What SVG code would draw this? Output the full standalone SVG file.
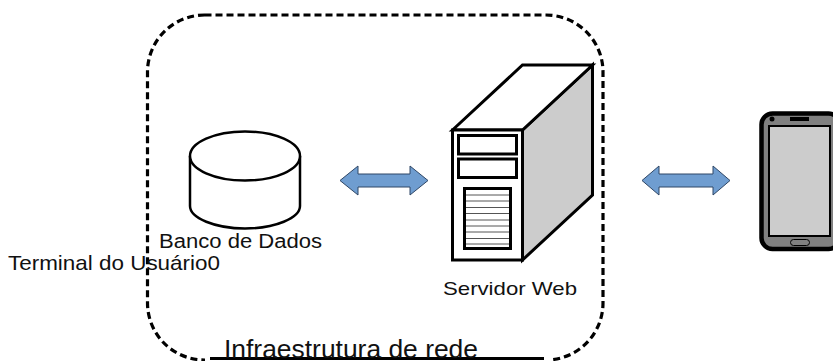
<svg xmlns="http://www.w3.org/2000/svg" width="833" height="361" viewBox="0 0 833 361">
<style>
.t{font-family:"Liberation Sans",Arial,sans-serif;fill:#111}
.arrow{fill:#6f9dd0;stroke:#2f4766;stroke-width:1}
</style>
<rect width="833" height="361" fill="#fff"/>
<g id="infra">
<rect x="147.500" y="15" width="455.500" height="345" rx="57" ry="57" fill="none" stroke="#000" stroke-width="3.200" stroke-dasharray="7 4"/>
<rect x="205" y="350" width="345" height="11" fill="#fff"/>
<line x1="210" y1="358.500" x2="544" y2="358.500" stroke="#000" stroke-width="3"/>
<text class="t" x="224" y="357.500" font-size="25.500" textLength="254" lengthAdjust="spacingAndGlyphs">Infraestrutura de rede</text>
</g>
<g id="db">
<path d="M190 156V206C190 218 215 228.500 245 228.500S300 218 300 206V156" fill="#fff" stroke="#000" stroke-width="2.500"/>
<ellipse cx="245" cy="156" rx="55" ry="24.500" fill="#fff" stroke="#000" stroke-width="2.500"/>
<text class="t" x="159" y="248" font-size="20" textLength="163" lengthAdjust="spacingAndGlyphs">Banco de Dados</text>
</g>
<g id="server">
<path d="M522.500 130L592.500 65V195L522.500 260Z" fill="#ccc" stroke="#000" stroke-width="3"/>
<path d="M452.500 130L522.500 65H592.500L522.500 130Z" fill="#fff" stroke="#000" stroke-width="3"/>
<rect x="452.500" y="130" width="70" height="130" fill="#fff" stroke="#000" stroke-width="3"/>
<rect x="458.500" y="135.500" width="58" height="18.500" fill="#fff" stroke="#000" stroke-width="3"/>
<rect x="458.500" y="159" width="58" height="18.500" fill="#fff" stroke="#000" stroke-width="3"/>
<rect x="464.500" y="188.500" width="46" height="60" fill="#fff" stroke="#000" stroke-width="3"/>
<path d="M466 195H509M466 201H509M466 207.500H509M466 213.500H509M466 220H509M466 226H509M466 232H509M466 238.500H509M466 244H509" stroke="#555" stroke-width="1" fill="none"/>
<text class="t" x="443" y="295" font-size="19" textLength="134" lengthAdjust="spacingAndGlyphs">Servidor Web</text>
</g>
<g id="phone">
<rect x="761.500" y="113.500" width="78" height="135.500" rx="11" fill="#808080" stroke="#000" stroke-width="4.500"/>
<rect x="769" y="126" width="61" height="110" fill="#ccc" stroke="#000" stroke-width="2"/>
<rect x="790" y="117" width="19" height="4" fill="#000"/>
<circle cx="772" cy="119" r="2.500" fill="#000"/>
<rect x="790.500" y="239.500" width="19" height="6" rx="3" fill="#808080" stroke="#000" stroke-width="1"/>
</g>
<g id="connectors">
<path class="arrow" d="M340 180.500L358 166V174H410V166L428 180.500L410 195V187H358V195Z"/>
<path class="arrow" d="M642 180.500L659 166V174H713V166L730 180.500L713 195V187H659V195Z"/>
</g>
<text id="terminal" class="t" x="8" y="270" font-size="21" textLength="212" lengthAdjust="spacingAndGlyphs">Terminal do Usuário0</text>
</svg>
